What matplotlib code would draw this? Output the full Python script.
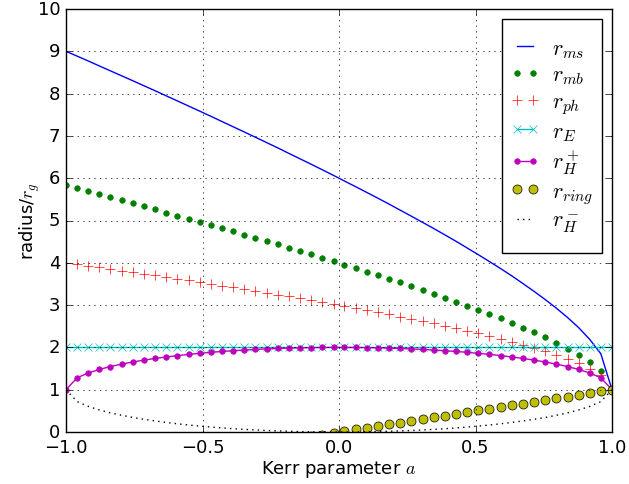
import numpy as np
import matplotlib
matplotlib.use("Agg")
import matplotlib.pyplot as plt

# spin values a (50 samples from -1 to 1)
a = [-1.0, -0.959, -0.918, -0.878, -0.837, -0.796, -0.755, -0.714, -0.673, -0.633,
     -0.592, -0.551, -0.510, -0.469, -0.429, -0.388, -0.347, -0.306, -0.265, -0.224,
     -0.184, -0.143, -0.102, -0.061, -0.020, 0.020, 0.061, 0.102, 0.143, 0.184,
     0.224, 0.265, 0.306, 0.347, 0.388, 0.429, 0.469, 0.510, 0.551, 0.592,
     0.633, 0.673, 0.714, 0.755, 0.796, 0.837, 0.878, 0.918, 0.959, 1.0]

r_ms = [9.000, 8.885, 8.770, 8.654, 8.537, 8.420, 8.303, 8.184, 8.066, 7.947,
        7.827, 7.706, 7.585, 7.463, 7.341, 7.217, 7.093, 6.968, 6.842, 6.716,
        6.588, 6.459, 6.330, 6.199, 6.066, 5.933, 5.799, 5.663, 5.525, 5.386,
        5.245, 5.102, 4.957, 4.810, 4.660, 4.507, 4.352, 4.193, 4.030, 3.863,
        3.691, 3.513, 3.327, 3.133, 2.928, 2.708, 2.466, 2.192, 1.851, 1.000]

r_mb = [5.828, 5.759, 5.689, 5.618, 5.547, 5.476, 5.405, 5.333, 5.261, 5.188,
        5.115, 5.042, 4.968, 4.894, 4.819, 4.744, 4.668, 4.592, 4.515, 4.438,
        4.360, 4.281, 4.202, 4.122, 4.041, 3.959, 3.877, 3.793, 3.709, 3.623,
        3.537, 3.449, 3.360, 3.269, 3.177, 3.083, 2.987, 2.890, 2.789, 2.686,
        2.579, 2.469, 2.355, 2.235, 2.108, 1.972, 1.822, 1.653, 1.445, 1.000]

r_ph = [4.000, 3.964, 3.927, 3.890, 3.853, 3.815, 3.777, 3.739, 3.700, 3.661,
        3.622, 3.582, 3.542, 3.502, 3.461, 3.419, 3.378, 3.335, 3.292, 3.249,
        3.205, 3.161, 3.116, 3.070, 3.023, 2.976, 2.928, 2.880, 2.830, 2.780,
        2.728, 2.676, 2.622, 2.567, 2.511, 2.453, 2.393, 2.332, 2.268, 2.202,
        2.134, 2.062, 1.986, 1.906, 1.820, 1.726, 1.622, 1.501, 1.347, 1.000]

r_E = [2.0] * 50

r_Hp = [1.000, 1.283, 1.396, 1.479, 1.548, 1.605, 1.656, 1.700, 1.739, 1.774,
        1.806, 1.835, 1.860, 1.883, 1.904, 1.922, 1.938, 1.952, 1.964, 1.974,
        1.983, 1.990, 1.995, 1.998, 2.000, 2.000, 1.998, 1.995, 1.990, 1.983,
        1.974, 1.964, 1.952, 1.938, 1.922, 1.904, 1.883, 1.860, 1.835, 1.806,
        1.774, 1.739, 1.700, 1.656, 1.605, 1.548, 1.479, 1.396, 1.283, 1.000]

r_ring = [-1.0, -0.959, -0.918, -0.878, -0.837, -0.796, -0.755, -0.714, -0.673, -0.633,
          -0.592, -0.551, -0.510, -0.469, -0.429, -0.388, -0.347, -0.306, -0.265, -0.224,
          -0.184, -0.143, -0.102, -0.061, -0.020, 0.020, 0.061, 0.102, 0.143, 0.184,
          0.224, 0.265, 0.306, 0.347, 0.388, 0.429, 0.469, 0.510, 0.551, 0.592,
          0.633, 0.673, 0.714, 0.755, 0.796, 0.837, 0.878, 0.918, 0.959, 1.0]

r_Hm = [1.000, 0.717, 0.604, 0.521, 0.452, 0.395, 0.344, 0.300, 0.261, 0.226,
        0.194, 0.165, 0.140, 0.117, 0.096, 0.078, 0.062, 0.048, 0.036, 0.026,
        0.017, 0.010, 0.005, 0.002, 0.000, 0.000, 0.002, 0.005, 0.010, 0.017,
        0.026, 0.036, 0.048, 0.062, 0.078, 0.096, 0.117, 0.140, 0.165, 0.194,
        0.226, 0.261, 0.300, 0.344, 0.395, 0.452, 0.521, 0.604, 0.717, 1.000]

yticks = list(range(0, 11))
xticks = [-1.0, -0.5, 0.0, 0.5, 1.0]

plt.style.use('classic')
plt.rcParams['font.size'] = 13

fig = plt.figure(figsize=(6.29, 4.85), dpi=100, facecolor='white')
ax = fig.add_axes([66/629, 52/485, 546/629, 423/485])

ax.plot(a, r_ms, 'b-', label=r'$r_{ms}$')
ax.plot(a, r_mb, 'g.', ms=8, mec='g', label=r'$r_{mb}$')
ax.plot(a, r_ph, 'r+', ms=7, label=r'$r_{ph}$')
ax.plot(a, r_E, 'cx-', ms=6, mec='c', label=r'$r_E$')
ax.plot(a, r_Hp, 'm.-', ms=8, mec='m', label=r'$r_H^+$')
ax.plot(a, r_ring, 'yo', ms=6.5, mec='k', label=r'$r_{ring}$')
ax.plot(a, r_Hm, 'k:', label=r'$r_H^-$')

ax.set_xlim(-1, 1)
ax.set_ylim(0, 10)
ax.set_xticks(xticks)
ax.set_yticks(yticks)
ax.grid(True)
ax.set_xlabel(r'Kerr parameter $a$', labelpad=2)
ax.set_ylabel(r'radius/$r_g$', labelpad=-3)
leg = ax.legend(loc='upper right', prop={'size': 16}, numpoints=2, handlelength=1.3,
                labelspacing=0.22, borderpad=0.4, handletextpad=0.55,
                borderaxespad=0.45, bbox_to_anchor=(1.0, 0.976))
# taller frame than the packed entries (extra vertical padding only)
frame = leg.get_frame()
frame.set_boxstyle('square', pad=0.01)
frame.set_mutation_aspect(45)

fig.savefig('out.png', dpi=100, facecolor='white')
